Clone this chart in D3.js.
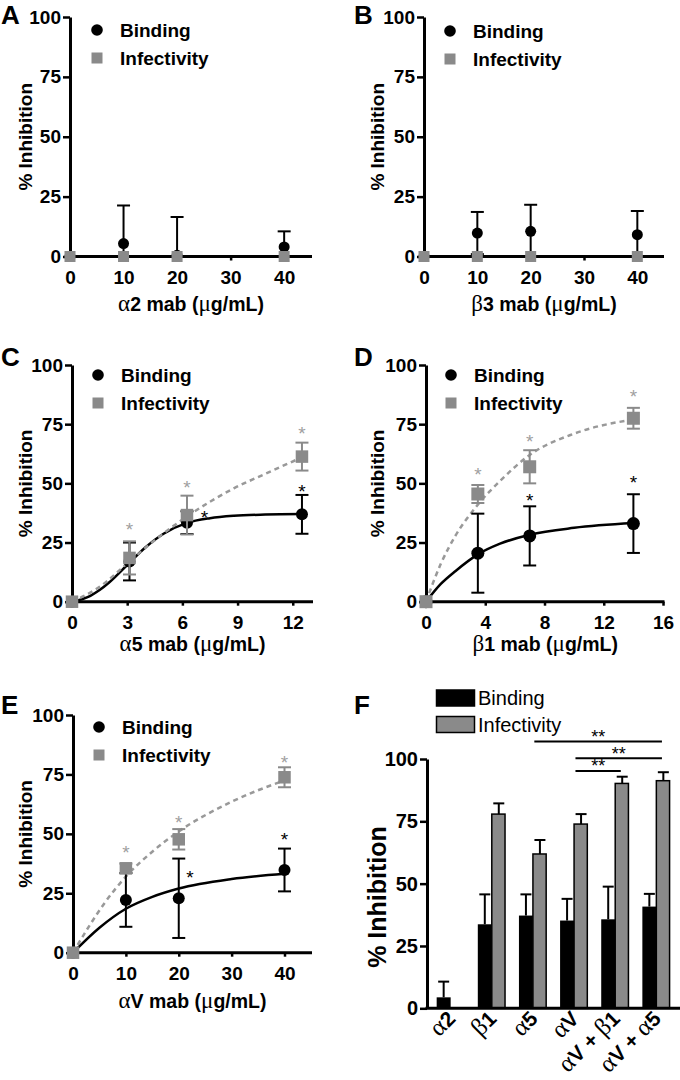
<!DOCTYPE html>
<html><head><meta charset="utf-8">
<script src="https://cdn.jsdelivr.net/npm/d3@7"></script>
<style>body{margin:0;background:#fff}svg{display:block}text{font-family:"Liberation Sans",Arial,sans-serif}</style>
</head><body><svg id="c" width="680" height="1080"></svg>
<script>
// ---------- DATA ----------
const yTicks = [0, 25, 50, 75, 100];
// Panel A (alpha2)
const doseA = [0, 10, 20, 40];
const bindA = [0, 5.4, 0.5, 4.0];
const bindErrA = [0, 15.9, 16.0, 6.5];
const infA = [0, 0, 0, 0];
const infErrA = [0, 0, 0, 0];
// Panel B (beta3)
const doseB = [0, 10, 20, 40];
const bindB = [0, 9.8, 10.5, 9.1];
const bindErrB = [0, 8.8, 11.1, 9.9];
const infB = [0, 0, 0, 0];
const infErrB = [0, 0, 0, 0];
// Panel C (alpha5)
const doseC = [0, 3.125, 6.25, 12.5];
const bindC = [0, 17, 33.4, 36.9];
const bindErrC = [0, 8, 4.8, 8.2];
const infC = [0, 18.5, 36.6, 61.3];
const infErrC = [0, 7, 8.2, 5.9];
const curveBindC = [[0,0],[1,2.5],[1.5,4.9],[2,8],[3,15.5],[4,23],[5,28.8],[6.25,33.3],[7.5,35.3],[8.8,36.3],[10.5,36.8],[12.5,37]];
const curveInfC = [[0,0],[1.5,6.3],[3.125,17],[4.5,26],[6.25,36],[8.8,47.9],[10.5,54],[12.5,61]];
const starsInfC = [[3.125,32.4],[6.25,50],[12.5,72.8]];
const starsBindC = [[7.2,37.3],[12.5,48.6]];
// Panel D (beta1)
const doseD = [0, 3.5, 7, 14];
const bindD = [0, 20.5, 27.8, 33];
const bindErrD = [0, 16.7, 12.5, 12.4];
const infD = [0, 45.5, 57, 77.5];
const infErrD = [0, 3.8, 7, 4.4];
const curveBindD = [[0,0],[1,7.5],[2,13],[3.5,20],[5,24.5],[7,28.3],[10,31.2],[14,33.2]];
const curveInfD = [[0,0],[1,16],[2,28],[3.5,41],[5,51],[7,62],[10,71],[14,77]];
const starsInfD = [[3.5,55.6],[7,69.7],[14,88.7]];
const starsBindD = [[7,44.6],[14,52.1]];
// Panel E (alphaV)
const doseE = [0, 10, 20, 40];
const bindE = [0, 22.2, 22.9, 34.8];
const bindErrE = [0, 11.3, 16.7, 9];
const infE = [0, 35.5, 47.7, 73.8];
const infErrE = [0, 2, 4.3, 4.2];
const curveBindE = [[0,0],[5,10.5],[10,18.5],[15,23.5],[20,27],[30,31],[40,33.2]];
const curveInfE = [[0,0],[3,11],[6,21],[10,32],[15,42.5],[20,51],[30,63.5],[40,72.5]];
const starsInfE = [[10,43.9],[20,56.5],[40,82]];
const starsBindE = [[22.1,33.4],[40,49.5]];
// Panel F (bars)
const catsF = ["α2", "β1", "α5", "αV", "αV + β1", "αV + α5"];
const bindF = [4.4, 33.7, 37.2, 35.2, 35.7, 40.8];
const bindErrF = [6.3, 12, 8.5, 8.7, 13.1, 5.1];
const infF = [0, 77.9, 61.9, 73.9, 90.2, 91.3];
const infErrF = [0, 4.3, 5.6, 4, 2.7, 3.4];
const sigFrom = ["α5", "αV", "αV"];
const sigTo = ["αV + α5", "αV + α5", "αV + β1"];
const sigLevel = [107, 100.3, 95.2];
const sigText = ["**", "**", "**"];

// ---------- DRAWING ----------
const svg = d3.select("#c");
const GRAY = "#8a8a8a", STARGRAY = "#a0a0a0";
const GREEK = /[αβμ]/;

function rich(sel, str, greekSize) {
  (str.match(/[αβμ]|[^αβμ]+/g) || []).forEach(p => {
    const t = sel.append("tspan").text(p);
    if (GREEK.test(p)) t.attr("font-family", "'Liberation Serif','DejaVu Serif',serif")
      .attr("font-weight", "normal").attr("font-size", greekSize);
  });
}

function styleAxis(a, fs) {
  a.select(".domain").attr("stroke", "#000").attr("stroke-width", 3);
  a.selectAll(".tick line").attr("stroke", "#000").attr("stroke-width", 2.5);
  a.selectAll(".tick text").attr("fill", "#000").attr("font-size", fs).attr("font-weight", "bold")
    .attr("font-family", "'Liberation Sans',Arial,sans-serif");
}

function letter(t, x, y) {
  svg.append("text").attr("x", x).attr("y", y).attr("font-size", 26).attr("font-weight", "bold").text(t);
}

function scatterPanel(o) {
  const x = d3.scaleLinear().domain(o.xDomain).range(o.xRange);
  const y = d3.scaleLinear().domain([0, 100]).range(o.yRange);
  const g = svg.append("g");
  const ya = g.append("g").attr("transform", `translate(${o.xRange[0]},0)`)
    .call(d3.axisLeft(y).tickValues(yTicks).tickSize(7).tickSizeOuter(0).tickPadding(2));
  styleAxis(ya, 19);
  const xa = g.append("g").attr("transform", `translate(0,${o.yRange[0]})`)
    .call(d3.axisBottom(x).tickValues(o.xTicks).tickSize(4).tickSizeOuter(0).tickPadding(10));
  styleAxis(xa, 19);
  xa.select(".domain").attr("d", `M${o.xRange[0]-1.5},0H${o.xRange[1]}`);
  const xl = g.append("text").attr("x", (o.xRange[0] + o.xRange[1]) / 2).attr("y", o.xLabelY)
    .attr("text-anchor", "middle").attr("font-size", 19.5).attr("font-weight", "bold");
  rich(xl, o.xLabel, 23);
  g.append("text").attr("transform", `translate(${o.yLabelX},${(o.yRange[0] + o.yRange[1]) / 2}) rotate(-90)`)
    .attr("text-anchor", "middle").attr("dy", "0.35em").attr("font-size", 19).attr("font-weight", "bold")
    .text("% Inhibition");
  const line = d3.line().x(d => x(d[0])).y(d => y(d[1])).curve(d3.curveMonotoneX);
  if (o.curveBind) g.append("path").datum(o.curveBind).attr("d", line).attr("fill", "none")
    .attr("stroke", "#000").attr("stroke-width", 2.5);
  if (o.curveInf) g.append("path").datum(o.curveInf).attr("d", line).attr("fill", "none")
    .attr("stroke", "#999").attr("stroke-width", 2.5).attr("stroke-dasharray", "5,4");
  function errs(vals, errsArr, color) {
    o.dose.forEach((d, i) => {
      const e = errsArr[i]; if (!e) return;
      const v = vals[i], top = v + e, bot = Math.max(0, v - e);
      const cx = x(d);
      g.append("line").attr("x1", cx).attr("x2", cx).attr("y1", y(top)).attr("y2", y(bot))
        .attr("stroke", color).attr("stroke-width", 2);
      g.append("line").attr("x1", cx - 6.5).attr("x2", cx + 6.5).attr("y1", y(top)).attr("y2", y(top))
        .attr("stroke", color).attr("stroke-width", 2);
      if (v - e > 0) g.append("line").attr("x1", cx - 6.5).attr("x2", cx + 6.5).attr("y1", y(bot)).attr("y2", y(bot))
        .attr("stroke", color).attr("stroke-width", 2);
    });
  }
  errs(o.bind, o.bindErr, "#000");
  g.selectAll(null).data(o.dose).enter().append("circle")
    .attr("cx", d => x(d)).attr("cy", (d, i) => y(o.bind[i])).attr("r", o.r).attr("fill", "#000");
  errs(o.inf, o.infErr, GRAY);
  g.selectAll(null).data(o.dose).enter().append("rect")
    .attr("x", d => x(d) - o.s / 2).attr("y", (d, i) => y(o.inf[i]) - o.s / 2)
    .attr("width", o.s).attr("height", o.s).attr("fill", GRAY);
  (o.starsInf || []).forEach(s => g.append("text").attr("x", x(s[0])).attr("y", y(s[1]) + 11)
    .attr("text-anchor", "middle").attr("font-size", 19).attr("fill", STARGRAY).text("*"));
  (o.starsBind || []).forEach(s => g.append("text").attr("x", x(s[0])).attr("y", y(s[1]) + 11)
    .attr("text-anchor", "middle").attr("font-size", 19).attr("fill", "#000").text("*"));
  const [lx, ly] = o.legend;
  g.append("circle").attr("cx", lx).attr("cy", ly).attr("r", 5.8).attr("fill", "#000");
  g.append("rect").attr("x", lx - 5.5).attr("y", ly + 28 - 5.5).attr("width", 11).attr("height", 11).attr("fill", GRAY);
  g.append("text").attr("x", lx + 23).attr("y", ly + 7).attr("font-size", 19).attr("font-weight", "bold").text("Binding");
  g.append("text").attr("x", lx + 23).attr("y", ly + 35).attr("font-size", 19).attr("font-weight", "bold").text("Infectivity");
  letter(o.letter, o.letterPos[0], o.letterPos[1]);
}

scatterPanel({letter: "A", letterPos: [1, 23.5], xDomain: [0, 45.2], xRange: [70, 312], yRange: [256.5, 17],
  xTicks: [0, 10, 20, 30, 40], xLabel: "α2 mab (μg/mL)", xLabelY: 311, yLabelX: 25, legend: [97, 30],
  dose: doseA, bind: bindA, bindErr: bindErrA, inf: infA, infErr: infErrA, r: 5.5, s: 11});
scatterPanel({letter: "B", letterPos: [354, 23.5], xDomain: [0, 45], xRange: [424, 664], yRange: [256.5, 17],
  xTicks: [0, 10, 20, 30, 40], xLabel: "β3 mab (μg/mL)", xLabelY: 311, yLabelX: 377, legend: [450, 31],
  dose: doseB, bind: bindB, bindErr: bindErrB, inf: infB, infErr: infErrB, r: 5.5, s: 11});
scatterPanel({letter: "C", letterPos: [1, 366], xDomain: [0, 13.1], xRange: [72, 313], yRange: [601.7, 365],
  xTicks: [0, 3, 6, 9, 12], xLabel: "α5 mab (μg/mL)", xLabelY: 651, yLabelX: 25, legend: [98, 375],
  dose: doseC, bind: bindC, bindErr: bindErrC, inf: infC, infErr: infErrC, r: 6, s: 12.5,
  curveBind: curveBindC, curveInf: curveInfC, starsInf: starsInfC, starsBind: starsBindC});
scatterPanel({letter: "D", letterPos: [354, 366], xDomain: [0, 16.1], xRange: [426, 664.5], yRange: [601.7, 365],
  xTicks: [0, 4, 8, 12, 16], xLabel: "β1 mab (μg/mL)", xLabelY: 651, yLabelX: 377, legend: [451, 375],
  dose: doseD, bind: bindD, bindErr: bindErrD, inf: infD, infErr: infErrD, r: 6.5, s: 13,
  curveBind: curveBindD, curveInf: curveInfD, starsInf: starsInfD, starsBind: starsBindD});
scatterPanel({letter: "E", letterPos: [1, 713.5], xDomain: [0, 45.2], xRange: [73, 312], yRange: [952.7, 715],
  xTicks: [0, 10, 20, 30, 40], xLabel: "αV mab (μg/mL)", xLabelY: 1008, yLabelX: 25, legend: [99, 727],
  dose: doseE, bind: bindE, bindErr: bindErrE, inf: infE, infErr: infErrE, r: 6, s: 12.5,
  curveBind: curveBindE, curveInf: curveInfE, starsInf: starsInfE, starsBind: starsBindE});

// ---------- Panel F ----------
(function () {
  const y = d3.scaleLinear().domain([0, 100]).range([1008.3, 759]);
  const xb = d3.scaleBand().domain(catsF).range([427, 680]).paddingInner(0.32).paddingOuter(0.235);
  const bw = xb.bandwidth(), hw = bw / 2;
  const g = svg.append("g");
  catsF.forEach((c, i) => {
    const x0 = xb(c);
    if (bindF[i] > 0) g.append("rect").attr("x", x0).attr("y", y(bindF[i])).attr("width", hw)
      .attr("height", y(0) - y(bindF[i])).attr("fill", "#000");
    if (infF[i] > 0) g.append("rect").attr("x", x0 + hw).attr("y", y(infF[i])).attr("width", hw - 0.75)
      .attr("height", y(0) - y(infF[i])).attr("fill", GRAY).attr("stroke", "#000").attr("stroke-width", 1.5);
    [[bindF[i], bindErrF[i], x0 + hw / 2], [infF[i], infErrF[i], x0 + hw * 1.5]].forEach(([v, e, cx]) => {
      if (!e || !v) return;
      g.append("line").attr("x1", cx).attr("x2", cx).attr("y1", y(v)).attr("y2", y(v + e))
        .attr("stroke", "#000").attr("stroke-width", 2);
      g.append("line").attr("x1", cx - 5.5).attr("x2", cx + 5.5).attr("y1", y(v + e)).attr("y2", y(v + e))
        .attr("stroke", "#000").attr("stroke-width", 2);
    });
  });
  const ya = g.append("g").attr("transform", "translate(427,0)")
    .call(d3.axisLeft(y).tickValues(yTicks).tickSize(7).tickSizeOuter(0).tickPadding(2));
  styleAxis(ya, 20);
  g.append("line").attr("x1", 425.5).attr("x2", 680).attr("y1", y(0)).attr("y2", y(0))
    .attr("stroke", "#000").attr("stroke-width", 3);
  catsF.forEach(c => {
    const t = g.append("text")
      .attr("transform", `translate(${xb(c) + hw + 6},1020) rotate(-45)`)
      .attr("text-anchor", "end").attr("font-size", 21).attr("font-weight", "bold");
    rich(t, c, 25);
  });
  g.append("text").attr("transform", "translate(377,897) rotate(-90)").attr("text-anchor", "middle")
    .attr("dy", "0.35em").attr("font-size", 25).attr("font-weight", "bold").text("% Inhibition");
  sigFrom.forEach((f, i) => {
    const x1 = xb(f) + bw * 0.55, x2 = xb(sigTo[i]) + bw * 0.7, ly = y(sigLevel[i]);
    g.append("line").attr("x1", x1).attr("x2", x2).attr("y1", ly).attr("y2", ly)
      .attr("stroke", "#000").attr("stroke-width", 2);
    g.append("text").attr("x", (x1 + x2) / 2).attr("y", ly + 1.5).attr("text-anchor", "middle")
      .attr("font-size", 18).text(sigText[i]);
  });
  [["Binding", "#000", 690], ["Infectivity", GRAY, 716.5]].forEach(([t, col, yy]) => {
    g.append("rect").attr("x", 436.5).attr("y", yy).attr("width", 38).attr("height", 16)
      .attr("fill", col).attr("stroke", "#000").attr("stroke-width", 1.5);
    g.append("text").attr("x", 478).attr("y", yy + 15).attr("font-size", 20).text(t);
  });
  letter("F", 354, 713.5);
})();
</script></body></html>
